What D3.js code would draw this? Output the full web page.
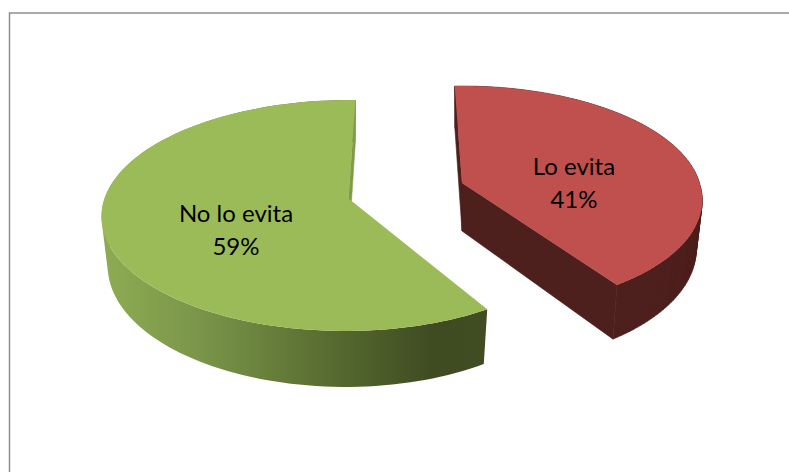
<!DOCTYPE html>
<html><head><meta charset="utf-8">
<script src="https://cdn.jsdelivr.net/npm/d3@7"></script>
<style>html,body{margin:0;padding:0;background:#fff;overflow:hidden}svg{display:block}</style>
</head><body><svg id="c" width="789" height="472"></svg>
<script>
const categories = ["Lo evita", "No lo evita"];
const values = [41, 59];
const percentLabels = ["41%", "59%"];
const topColors = ["#c0504d", "#9bbb59"];
const wallColors = ["#4d1f1d", "#7f9b4a"];
const gradientStops = [[0, "#8dab53"], [0.25, "#7a9549"], [0.6, "#566a2f"], [0.85, "#3f4c22"], [1, "#404d23"]];

// one geometry per exploded slice: apex, radii, perspective, shear above and below the apex
const sliceGeom = [
  {ax: 462, ay: 183, R: 237.5, H: 110, k: 0.134, shearUp: 0, shearDown: 0.04, rot: -2, right: 1, lx: 574, ly: 175, walls: [0, 120]},
  {ax: 348.5, ay: 198.5, R: 244, H: 113, k: 0.147, shearUp: -0.02, shearDown: -0.02, rot: 1.4, right: 0.98, lx: 236, ly: 222, walls: [120]}
];
const depth = 48, botX = 0.975, botY = 1.06;

const svg = d3.select("#c");
const pie = d3.pie().value(d => d).sort(null).startAngle(0).endAngle(2 * Math.PI);
const arcs = pie(values);

const grad = svg.append("defs").append("linearGradient").attr("id", "side")
  .attr("gradientUnits", "userSpaceOnUse").attr("x1", 105).attr("x2", 488).attr("y1", 0).attr("y2", 0);
grad.selectAll("stop").data(gradientStops).join("stop")
  .attr("offset", d => d[0]).attr("stop-color", d => d[1]);

const line = d3.line();
const toRad = Math.PI / 180;

arcs.forEach((a, i) => {
  const g = sliceGeom[i];
  const x = d3.scaleLinear().domain([-1, 1]).range([-g.R, g.R]);
  const y = d3.scaleLinear().domain([-1, 1]).range([-g.H, g.H]);
  const rot = g.rot * toRad;
  const project = (r, th, low) => {
    const u = r * Math.sin(th + rot), v = -r * Math.cos(th + rot);
    const w = 1 - g.k * v;
    const py = y(v / w);
    let px = x(u / w) + (py > 0 ? g.shearDown : g.shearUp) * py;
    if (px > 0) px *= g.right;
    return low ? [g.ax + px * botX, g.ay + py * botY + depth] : [g.ax + px, g.ay + py];
  };
  const thetas = d3.range(0, 121).map(n => a.startAngle + (a.endAngle - a.startAngle) * n / 120);
  const topRim = thetas.map(t => project(1, t, false));
  const lowRim = thetas.map(t => project(1, t, true));
  const apexT = project(0, 0, false), apexB = project(0, 0, true);
  const G = svg.append("g");
  const sideFill = i === 1 ? "url(#side)" : wallColors[i];
  // swept outer side as one path, with the quads wound the same way, so no seams show
  const sweep = d3.range(0, 120).map(n => {
    const q = [topRim[n], topRim[n + 1], lowRim[n + 1], lowRim[n]];
    return line(d3.polygonArea(q) < 0 ? q.slice().reverse() : q) + "Z";
  }).join("");
  G.append("path").attr("d", sweep).attr("fill", sideFill)
    .attr("stroke", i === 0 ? sideFill : "none").attr("stroke-width", 0.5);
  g.walls.forEach(n =>
    G.append("path").attr("d", line([apexT, topRim[n], lowRim[n], apexB]) + "Z")
      .attr("fill", wallColors[i]).attr("stroke", wallColors[i]).attr("stroke-width", 0.6));
  G.append("path").attr("d", line([apexT].concat(topRim)) + "Z").attr("fill", topColors[i]);
});

svg.append("path").attr("d", line([[9.5, 472], [9.5, 13], [789, 13]]))
  .attr("fill", "none").attr("stroke", "#8e8e8e").attr("stroke-width", 1.5);

categories.forEach((c, i) => {
  const g = sliceGeom[i];
  const t = svg.append("text").attr("text-anchor", "middle")
    .attr("font-family", "Lato, 'Open Sans', sans-serif").attr("font-size", 24).attr("fill", "#000");
  t.append("tspan").attr("x", g.lx).attr("y", g.ly).text(c);
  t.append("tspan").attr("x", g.lx).attr("y", g.ly + 33).text(percentLabels[i]);
});
</script></body></html>
